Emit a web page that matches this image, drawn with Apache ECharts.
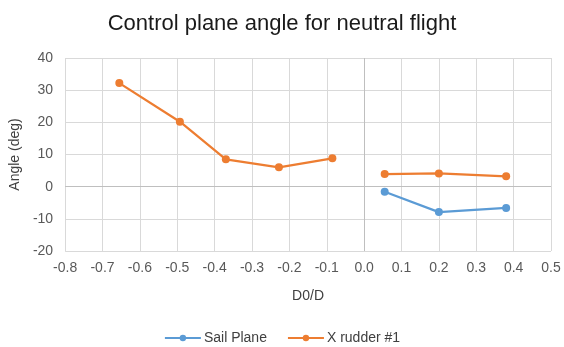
<!DOCTYPE html>
<html>
<head>
<meta charset="utf-8">
<script src="https://cdn.jsdelivr.net/npm/echarts@6/dist/echarts.min.js"></script>
<style>
  html, body { margin: 0; padding: 0; background: #fff; }
  #chart { width: 564px; height: 347px; }
</style>
</head>
<body>
<div id="chart"></div>
<script>
// D0/D positions and control plane angles (deg)
const sailPlaneX = [0.055, 0.2, 0.38];
const sailPlaneY = [-1.6, -7.9, -6.6];
const xRudderX = [-0.655, -0.493, -0.37, -0.228, -0.085, 0.055, 0.2, 0.38];
const xRudderY = [32.2, 20.2, 8.5, 6.0, 8.8, 3.9, 4.1, 3.2];
// index after which the X rudder curve is broken (no line across D0/D = 0)
const xRudderBreak = 4;

const xTicks = { min: -0.8, max: 0.5, interval: 0.1 };
const yTicks = { min: -20, max: 40, interval: 10 };

function pairs(xs, ys, breakAfter) {
  const out = [];
  xs.forEach((x, i) => {
    out.push([x, ys[i]]);
    if (i === breakAfter) out.push(['-', '-']);
  });
  return out;
}

const FONT = '"Liberation Sans", Arial, sans-serif';
const chart = echarts.init(document.getElementById('chart'), null, { renderer: 'canvas' });

chart.setOption({
  animation: false,
  backgroundColor: '#ffffff',
  title: {
    text: 'Control plane angle for neutral flight',
    left: 'center',
    top: 8,
    textStyle: { fontFamily: FONT, fontSize: 22, fontWeight: 'normal', color: '#1a1a1a' }
  },
  legend: {
    bottom: -3,
    left: 'center',
    itemWidth: 36,
    itemHeight: 8,
    itemGap: 20,
    textStyle: { fontFamily: FONT, fontSize: 14, color: '#404040', padding: [0, 0, 0, -2] },
    data: ['Sail Plane', 'X rudder #1']
  },
  grid: { left: 65, right: 13, top: 58, bottom: 96 },
  xAxis: {
    type: 'value',
    min: xTicks.min, max: xTicks.max, interval: xTicks.interval,
    name: 'D0/D',
    nameLocation: 'middle',
    nameGap: 38,
    nameTextStyle: { fontFamily: FONT, fontSize: 14, color: '#404040' },
    axisLine: { show: false },
    axisTick: { show: false },
    axisLabel: {
      fontFamily: FONT, fontSize: 14, color: '#595959', margin: 10,
      formatter: v => v.toFixed(1)
    },
    splitLine: { show: true, lineStyle: { color: '#d9d9d9', width: 1 } }
  },
  yAxis: {
    type: 'value',
    min: yTicks.min, max: yTicks.max, interval: yTicks.interval,
    name: 'Angle (deg)',
    nameLocation: 'middle',
    nameGap: 39,
    nameTextStyle: { fontFamily: FONT, fontSize: 14, color: '#404040' },
    axisLine: { show: false },
    axisTick: { show: false },
    axisLabel: { fontFamily: FONT, fontSize: 14, color: '#595959', margin: 12 },
    splitLine: { show: true, lineStyle: { color: '#d9d9d9', width: 1 } }
  },
  series: [
    {
      name: 'Sail Plane',
      type: 'line',
      data: pairs(sailPlaneX, sailPlaneY, -1),
      color: '#5b9bd5',
      symbol: 'circle',
      symbolSize: 8,
      lineStyle: { width: 2.25 },
      z: 3,
      // zero lines of both axes
      markLine: {
        silent: true,
        symbol: 'none',
        label: { show: false },
        lineStyle: { color: '#bfbfbf', width: 1, type: 'solid' },
        data: [{ xAxis: 0 }, { yAxis: 0 }]
      }
    },
    {
      name: 'X rudder #1',
      type: 'line',
      data: pairs(xRudderX, xRudderY, xRudderBreak),
      connectNulls: false,
      color: '#ed7d31',
      symbol: 'circle',
      symbolSize: 8,
      lineStyle: { width: 2.25 },
      z: 4
    }
  ]
});
</script>
</body>
</html>
